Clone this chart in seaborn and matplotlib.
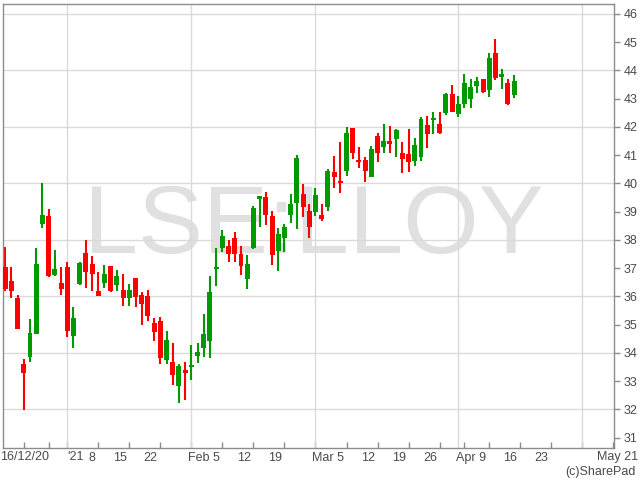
import numpy as np
import pandas as pd
import matplotlib
matplotlib.use("Agg")
import matplotlib.pyplot as plt
import seaborn as sns

# trading calendar: weekdays from 16/12/20, UK bank holidays removed
holidays = ["2020-12-25", "2020-12-28", "2021-01-01", "2021-04-02", "2021-04-05"]
trading_days = pd.bdate_range("2020-12-16", "2021-05-14", freq="C", holidays=holidays)

# daily OHLC (pence)
open_px = [37.03, 36.54, 35.95, 33.60, 33.86, 34.68, 38.56, 38.84, 36.76, 36.48,
           37.04, 34.61, 36.44, 37.52, 37.13, 36.19, 36.47, 37.08, 36.41, 36.24,
           35.94, 36.65, 36.06, 36.02, 35.04, 35.12, 33.76, 33.67, 32.82, 33.38,
           33.51, 33.88, 34.18, 34.41, 36.97, 37.71, 37.77, 38.05, 37.51, 36.63,
           37.72, 39.45, 39.50, 38.84, 37.59, 38.08, 38.88, 39.31, 39.62, 39.03,
           38.99, 38.89, 39.18, 40.39, 40.09, 40.45, 41.95, 40.84, 40.82, 40.24,
           41.68, 41.27, 41.51, 41.56, 41.06, 41.04, 40.80, 40.95, 42.06, 42.26,
           42.10, 42.50, 43.17, 42.45, 42.81, 42.99, 43.43, 43.69, 43.31, 44.60,
           43.76, 43.57, 43.13]
high_px = [37.73, 37.03, 36.05, 33.78, 35.20, 37.71, 40.00, 39.09, 37.64, 37.04,
           37.22, 35.63, 37.20, 37.99, 37.43, 36.86, 37.12, 37.08, 36.94, 36.80,
           36.45, 36.65, 36.14, 36.24, 35.24, 35.27, 34.76, 34.35, 33.59, 33.69,
           34.26, 34.35, 35.39, 36.71, 37.70, 38.35, 37.98, 38.26, 37.77, 37.46,
           39.19, 39.54, 39.70, 39.03, 38.41, 38.56, 39.61, 41.02, 39.96, 39.26,
           39.85, 39.27, 40.51, 40.98, 41.47, 42.00, 41.95, 41.29, 40.94, 41.33,
           41.79, 42.09, 42.04, 41.92, 41.47, 41.94, 41.62, 42.35, 42.38, 42.54,
           42.51, 43.21, 43.49, 43.10, 43.88, 43.70, 43.76, 43.69, 44.62, 45.10,
           44.06, 43.70, 43.85]
low_px = [36.20, 35.93, 34.86, 31.98, 33.69, 34.68, 38.43, 36.70, 36.72, 36.05,
          34.57, 34.18, 36.40, 36.31, 36.20, 36.01, 36.31, 36.14, 36.20, 35.67,
          35.67, 35.62, 35.00, 35.12, 34.41, 33.59, 33.62, 32.86, 32.21, 32.33,
          33.04, 33.65, 33.86, 33.82, 36.35, 37.56, 37.20, 37.20, 36.75, 36.25,
          37.67, 38.47, 38.54, 37.10, 36.89, 37.56, 38.61, 38.37, 38.82, 38.07,
          38.84, 38.66, 39.01, 39.84, 39.65, 40.25, 40.86, 40.53, 40.04, 40.24,
          40.74, 41.09, 41.09, 40.92, 40.35, 40.39, 40.60, 40.80, 41.26, 41.73,
          41.74, 42.42, 42.54, 42.36, 42.68, 42.68, 43.21, 43.19, 43.07, 43.67,
          43.33, 42.77, 43.01]
close_px = [36.25, 36.20, 34.86, 33.30, 34.70, 37.14, 38.88, 36.72, 36.97, 36.25,
            34.77, 35.23, 37.17, 36.87, 36.80, 36.01, 36.78, 36.18, 36.73, 35.94,
            36.21, 35.96, 35.74, 35.29, 34.73, 33.82, 34.44, 33.20, 33.53, 33.28,
            33.56, 34.03, 34.65, 36.14, 37.03, 38.14, 37.51, 37.49, 37.06, 37.13,
            39.12, 39.54, 38.89, 37.45, 38.21, 38.46, 39.26, 40.89, 39.17, 38.47,
            39.60, 38.74, 40.45, 40.21, 40.01, 41.79, 41.09, 40.74, 40.45, 41.21,
            41.06, 41.51, 41.41, 41.88, 40.85, 40.74, 41.35, 42.27, 41.76, 42.33,
            41.79, 43.17, 42.54, 42.81, 43.57, 43.40, 43.61, 43.23, 44.45, 43.73,
            43.87, 42.81, 43.63]

# x labels: week-ending day shown next to the following week's tick
label_dates = ["2021-01-08", "2021-01-15", "2021-01-22", "2021-02-05", "2021-02-12",
               "2021-02-19", "2021-03-05", "2021-03-12", "2021-03-19", "2021-03-26",
               "2021-04-09", "2021-04-16", "2021-04-23"]
label_text = ["8", "15", "22", "Feb 5", "12", "19", "Mar 5", "12", "19", "26",
              "Apr 9", "16", "23"]
price_ticks = list(range(31, 47))
price_grid = list(range(32, 47, 2))

GREEN = "#009900"
RED = "#ff0000"
GRID = "#dadada"
SPINE = "#8c8c8c"
TXT = "#4a4a4a"

n = len(open_px)
df = pd.DataFrame({"day": np.arange(n), "open": open_px, "high": high_px,
                   "low": low_px, "close": close_px})
df["body_low"] = df[["open", "close"]].min(axis=1)
df["body_h"] = (df["close"] - df["open"]).abs().clip(lower=0.05)
df["dir"] = np.where(df["close"] >= df["open"], "up", "down")

sns.set_style("white")
plt.rcParams["font.family"] = ["Liberation Sans", "DejaVu Sans"]

fig = plt.figure(figsize=(6.4, 4.8), dpi=100)
ax = fig.add_axes([3 / 640, 1 - 448 / 480, 611 / 640, 444 / 480])

# watermark
ax.text(313.5 / 640, 1 - 253 / 480, "LSE:LLOY", transform=fig.transFigure,
        fontsize=70, color="#e0e0e0", ha="center", va="baseline", zorder=0.5)

# month gridlines at first trading day of each month, price grid every 2p
day_index = pd.Series(np.arange(len(trading_days)), index=trading_days)
month_first = day_index.groupby([trading_days.year, trading_days.month]).first().values
week_key = trading_days.to_period("W")
week_first = day_index.groupby(week_key).first().values
for m in month_first[1:]:
    ax.axvline(m, color=GRID, lw=1, zorder=1)
for p in price_grid:
    ax.axhline(p, color=GRID, lw=1, zorder=1)

# wicks
wick_colors = np.where(df["dir"] == "up", GREEN, RED)
ax.vlines(df["day"], df["low"], df["high"], colors=wick_colors, lw=1.5, zorder=2.5)

# bodies
for d, col in [("up", GREEN), ("down", RED)]:
    sub = df[df["dir"] == d]
    sns.barplot(data=sub, x="day", y="body_h", bottom=sub["body_low"].to_numpy(),
                native_scale=True, width=0.8, color=col, saturation=1,
                errorbar=None, linewidth=0, ax=ax, zorder=3)

ax.set_xlim(-0.35, 98.1)
ax.set_ylim(30.63, 46.35)
ax.set_xlabel("")
ax.set_ylabel("")

# x: tick marks every week (minor), labels placed by week-ending day (major, no mark)
ax.set_xticks(week_first[1:], minor=True)
lab_pos = [day_index[pd.Timestamp(d)] + 0.55 for d in label_dates]
ax.set_xticks(lab_pos)
ax.set_xticklabels(label_text, ha="right")
ax.tick_params(axis="x", which="major", length=0, pad=3, labelsize=9, labelcolor=TXT)
ax.tick_params(axis="x", which="minor", direction="in", length=4, width=1,
               color=SPINE, bottom=True)

# y on the right
ax.yaxis.tick_right()
ax.set_yticks(price_ticks)
ax.tick_params(axis="y", direction="out", length=4, width=1, color=SPINE, pad=3,
               labelsize=9, labelcolor=TXT, right=True, left=False)

for s in ax.spines.values():
    s.set_visible(True)
    s.set_color(SPINE)
    s.set_linewidth(1)

label_y = 1 - 457 / 480
fig.text(67 / 640, label_y, "'21", ha="left", va="center", fontsize=9, color=TXT)
fig.text(0.0, label_y, "16/12/20", ha="left", va="center", fontsize=9, color=TXT)
fig.text(638 / 640, label_y, "May 21", ha="right", va="center", fontsize=9, color=TXT)
fig.text(636 / 640, 1 - 466 / 480, "(c)SharePad", ha="right", va="top", fontsize=9, color=TXT)

fig.savefig("out.png", dpi=100)
